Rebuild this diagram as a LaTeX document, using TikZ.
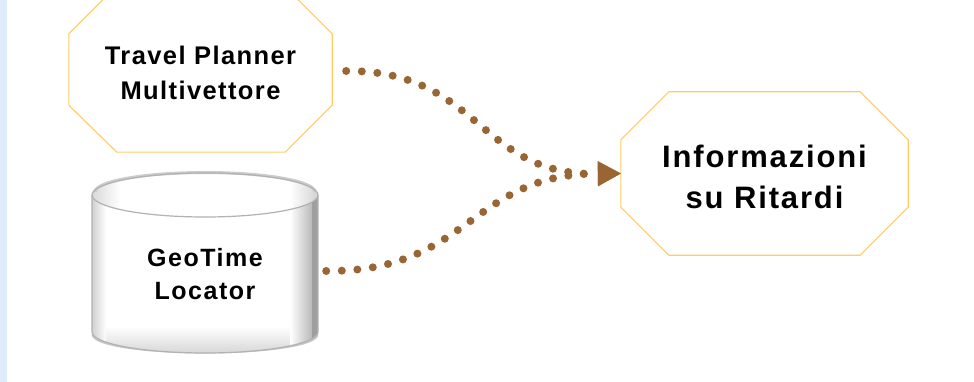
\documentclass[tikz,border=0pt]{standalone}
\usepackage{fontspec}
\setmainfont{Liberation Sans}
\usetikzlibrary{arrows.meta,calc}
\definecolor{octline}{HTML}{FFCC66}
\definecolor{dotbrown}{HTML}{996633}
\definecolor{stripblue}{HTML}{DDEBFB}
\tikzset{
  octbox/.style={draw=none, minimum width=#1, inner sep=0pt, align=center},
  octline/.style={draw=octline, line width=1.1pt},
  flow/.style={draw=dotbrown, line width=8pt, line cap=round, dash pattern=on 0pt off 15.6pt,
    -{Triangle[length=23pt,width=25pt,round=false,line width=0pt]}},
  cylrim/.style={draw=gray!60, line width=1.2pt},
}
\begin{document}
\begin{tikzpicture}[x=1pt,y=-1pt]
\useasboundingbox (0,0) rectangle (974,382);
\fill[white] (0,0) rectangle (974,382);
\fill[stripblue] (0,0) rectangle (7,382);

% Travel Planner octagon
\node[octbox=263pt, minimum height=166pt] (tp) at (200.5,69) {};
\draw[octline] ([xshift=48pt]tp.north west) -- ([xshift=-48pt]tp.north east)
  -- ([yshift=-48pt]tp.north east) -- ([yshift=47pt]tp.south east)
  -- ([xshift=-47pt]tp.south east) -- ([xshift=48pt]tp.south west)
  -- ([yshift=47pt]tp.south west) -- ([yshift=-48pt]tp.north west) -- cycle;
\node[align=center, font=\fontsize{25.5}{35}\selectfont\bfseries\addfontfeature{LetterSpace=5.5}] (tpt) at (200.5,73) {Travel Planner\\Multivettore};

% Informazioni octagon
\node[octbox=287pt, minimum height=163pt] (ir) at (764.5,173.5) {};
\draw[octline] ([xshift=48pt]ir.north west) -- ([xshift=-48pt]ir.north east)
  -- ([yshift=-48pt]ir.north east) -- ([yshift=48pt]ir.south east)
  -- ([xshift=-48pt]ir.south east) -- ([xshift=48pt]ir.south west)
  -- ([yshift=48pt]ir.south west) -- ([yshift=-48pt]ir.north west) -- cycle;
\node[align=center, font=\fontsize{31}{41}\selectfont\bfseries\addfontfeature{LetterSpace=6}] (irt) at (764.5,177) {Informazioni\\su Ritardi};

% GeoTime cylinder
\node[draw=none, minimum width=226pt, minimum height=180pt, inner sep=0pt] (gt) at (205,263) {};
\draw[gray!45, line width=5pt] (94,334) arc[start angle=180, end angle=360, x radius=111pt, y radius=17pt];
\fill[white] (92,195) -- (92,332) arc[start angle=180, end angle=360, x radius=113pt, y radius=21pt] -- (318,195) -- cycle;
\begin{scope}
  \clip (92,195) -- (92,332) arc[start angle=180, end angle=360, x radius=113pt, y radius=21pt] -- (318,195) -- cycle;
  \shade[top color=white, bottom color=gray!35] (80,326) rectangle (330,356);
  \shade[left color=gray!40, right color=white, opacity=0.9] (92,170) rectangle (106,360);
  \shade[left color=white, right color=gray!55] (290,170) rectangle (312,360);
  \fill[gray!75] (312,170) rectangle (318,360);
\end{scope}
\begin{scope}
  \clip (205,195) ellipse[x radius=113pt, y radius=22pt];
  \fill[white] (80,170) rectangle (330,220);
  \shade[left color=gray!30, right color=white] (92,170) rectangle (120,220);
  \shade[left color=white, right color=gray!35] (290,170) rectangle (318,220);
\end{scope}
\draw[gray!40, line width=3pt] (95,192) arc[start angle=180, end angle=0, x radius=110pt, y radius=19.5pt];
\draw[cylrim] (205,195) ellipse[x radius=113pt, y radius=22pt];
\draw[cylrim] (92,195) -- (92,332) arc[start angle=180, end angle=360, x radius=113pt, y radius=21pt] -- (318,195);
\node[align=center, font=\fontsize{25}{33}\selectfont\bfseries\addfontfeature{LetterSpace=6}] (gtt) at (205,274) {GeoTime\\Locator};

% connectors
\draw[flow] ($(tp.east)+(14,2)$) .. controls (480,70) and (478,176) .. (ir.west);
\draw[flow] ($(gt.east)+(8,8)$) .. controls (470,272) and (470,174) .. (ir.west);
\end{tikzpicture}
\end{document}
